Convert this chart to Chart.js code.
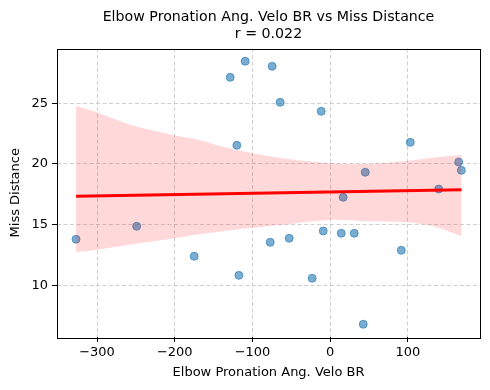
<!DOCTYPE html>
<html>
<head>
<meta charset="utf-8">
<script src="https://cdn.jsdelivr.net/npm/chart.js@4/dist/chart.umd.min.js"></script>
<style>
  html, body { margin: 0; padding: 0; background: #fff; }
  #wrap { width: 490px; height: 390px; }
</style>
</head>
<body>
<div id="wrap"><canvas id="scatter-chart" width="490" height="390"></canvas></div>
<script>
// values
var veloBR = [-327, -249, -175, -128.7, -109.4, -120.1, -117.5, -77.2, -74.7, -64.4, -11.6, 103,
              165.3, 168.7, 45.1, 16.7, 139.5, -52.8, -9, 14.2, 30.9, 91.4, -23.2, 42.5];
var missDist = [13.81, 14.88, 12.41, 27.13, 28.45, 21.54, 10.84, 13.56, 28.03, 25.07, 24.33, 21.78,
                20.16, 19.48, 19.32, 17.26, 17.94, 13.89, 14.49, 14.30, 14.30, 12.90, 10.60, 6.82];

// fitted line and confidence band
var fitX = [-327, 169];
var fitY = [17.34, 17.89];
var bandX = [-327, -300, -280, -250, -200, -170, -140, -100, -55, 0, 45, 100, 137, 169];
var bandUpper = [24.77, 24.25, 23.75, 23.1, 22.35, 22.0, 21.45, 20.88, 20.42, 20.08, 20.0, 20.27, 20.55, 20.74];
var bandLower = [12.75, 12.95, 13.15, 13.45, 13.9, 14.2, 14.45, 14.75, 15.05, 15.4, 15.3, 15.2, 14.8, 14.05];

var xTicks = [-300, -200, -100, 0, 100];
var yTicks = [10, 15, 20, 25];

function pairs(xs, ys) {
    return xs.map(function (x, i) { return { x: x, y: ys[i] }; });
}

function minusSign(v) {
    return v < 0 ? '\u2212' + Math.abs(v) : String(v);
}

// black box around the axes
var frame = {
    id: 'frame',
    afterDraw: function (c) {
        var a = c.chartArea, ctx = c.ctx;
        ctx.save();
        ctx.strokeStyle = '#000';
        ctx.lineWidth = 1;
        ctx.strokeRect(Math.round(a.left) + 0.5, Math.round(a.top) + 0.5,
                       Math.round(a.right - a.left), Math.round(a.bottom - a.top));
        ctx.restore();
    }
};

var font = "'DejaVu Sans', sans-serif";
Chart.defaults.font.family = font;
Chart.defaults.color = '#000';

var gridOpts = {
    color: 'rgba(176,176,176,0.75)',
    lineWidth: 0.8,
    tickColor: '#000',
    tickLength: 5,
    tickWidth: 1,
    tickBorderDash: []
};
var borderOpts = { display: false, dash: [4, 2.5] };

var chart = new Chart(document.getElementById('scatter-chart'), {
    type: 'scatter',
    data: {
        datasets: [
            {
                type: 'line',
                label: 'upper',
                data: pairs(bandX, bandUpper),
                borderWidth: 0,
                borderColor: 'rgba(0,0,0,0)',
                pointRadius: 0,
                fill: '+1',
                backgroundColor: 'rgba(255,0,0,0.15)',
                tension: 0.3,
                order: 1
            },
            {
                type: 'line',
                label: 'lower',
                data: pairs(bandX, bandLower),
                borderWidth: 0,
                borderColor: 'rgba(0,0,0,0)',
                pointRadius: 0,
                fill: false,
                tension: 0.3,
                order: 1
            },
            {
                type: 'line',
                label: 'fit',
                data: pairs(fitX, fitY),
                borderColor: '#ff0000',
                borderWidth: 3,
                pointRadius: 0,
                fill: false,
                order: 0
            },
            {
                label: 'points',
                data: pairs(veloBR, missDist),
                backgroundColor: 'rgba(31,119,180,0.6)',
                borderColor: 'rgba(31,119,180,0.6)',
                borderWidth: 1,
                pointRadius: 4,
                order: 2
            }
        ]
    },
    options: {
        responsive: false,
        animation: false,
        layout: { padding: { left: 5, right: 10, top: 0, bottom: 8 } },
        plugins: {
            legend: { display: false },
            tooltip: { enabled: false },
            title: {
                display: true,
                fullSize: false,
                text: ['Elbow Pronation Ang. Velo BR vs Miss Distance', 'r = 0.022'],
                font: { size: 14.2, weight: 'normal', lineHeight: '17px' },
                color: '#000',
                padding: { top: 9, bottom: 5.5 }
            }
        },
        scales: {
            x: {
                type: 'linear',
                min: -351.5,
                max: 192.7,
                grid: gridOpts,
                border: borderOpts,
                afterBuildTicks: function (s) { s.ticks = xTicks.map(function (v) { return { value: v }; }); },
                afterFit: function (s) { s.height = 45; },
                ticks: { font: { size: 13 }, padding: 3, maxRotation: 0, callback: minusSign },
                title: {
                    display: true,
                    text: 'Elbow Pronation Ang. Velo BR',
                    font: { size: 13 },
                    padding: { top: 4, bottom: 2 }
                }
            },
            y: {
                type: 'linear',
                min: 5.77,
                max: 29.5,
                grid: gridOpts,
                border: borderOpts,
                afterBuildTicks: function (s) { s.ticks = yTicks.map(function (v) { return { value: v }; }); },
                afterFit: function (s) { s.width = 52; },
                ticks: { font: { size: 13 }, padding: 4, callback: minusSign },
                title: {
                    display: true,
                    text: 'Miss Distance',
                    font: { size: 13 },
                    padding: { top: 3, bottom: 0 }
                }
            }
        }
    },
    plugins: [frame]
});
</script>
</body>
</html>
